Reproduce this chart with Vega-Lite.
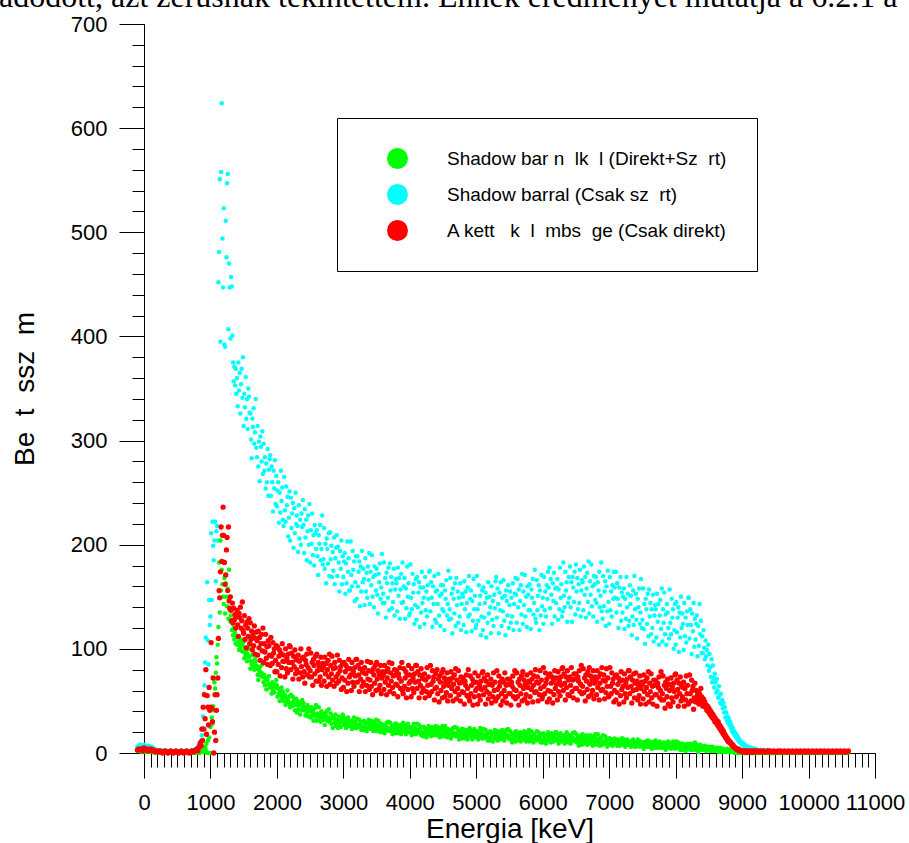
{
  "$schema": "https://vega.github.io/schema/vega-lite/v6.json",
  "width": 731,
  "height": 729,
  "autosize": "none",
  "padding": {"left": 144, "top": 24, "right": 34, "bottom": 90},
  "background": "white",
  "config": {"view": {"stroke": null}, "font": "Liberation Sans"},
  "title": {
    "text": "adódott, azt zérusnak tekintettem. Ennek eredményét mutatja a 6.2.1 a",
    "anchor": "start",
    "frame": "group",
    "font": "Liberation Serif",
    "fontSize": 32,
    "fontWeight": "normal",
    "color": "black",
    "baseline": "alphabetic",
    "offset": -26,
    "dx": -145
  },
  "data": {
    "format": {"type": "csv", "parse": {"e": "number", "g": "number", "c": "number", "r": "number"}},
    "values": "e,g,c,r\n-100,2,6,3\n-80,3,7,4\n-60,2,8,3\n-40,1,6,4\n-20,3,7,2\n0,2,8,5\n20,1,6,3\n40,2,7,4\n60,3,6,2\n80,1,7,3\n100,2,5,4\n120,1,6,2\n140,2,4,3\n160,0,4,2\n180,1,3,1\n200,1,3,2\n220,0,2,1\n240,1,3,2\n260,0,2,1\n280,1,2,0\n300,0,3,1\n320,1,2,2\n340,0,2,1\n360,1,1,0\n380,0,2,1\n400,1,2,2\n420,0,1,1\n440,1,2,0\n460,0,2,1\n480,1,1,2\n500,0,2,1\n520,1,1,0\n540,0,2,1\n560,1,1,2\n580,0,2,1\n600,1,1,0\n620,0,2,1\n640,1,1,2\n660,0,2,1\n680,1,1,0\n700,0,2,1\n720,1,3,2\n740,0,2,1\n760,1,3,2\n780,0,4,3\n800,1,3,4\n810,0,4,2\n820,1,3,5\n830,0,5,6\n840,1,6,8\n850,2,8,10\n860,1,12,7\n870,3,17,23\n880,2,24,12\n890,1,35,44\n900,4,57,23\n910,2,65,56\n920,6,87,33\n930,3,111,80\n940,9,80,18\n950,0,164,55\n960,12,108,44\n970,0,85,27\n980,15,147,63\n990,0,123,41\n1000,25,131,44\n1010,0,211,106\n1020,34,147,43\n1030,28,222,30\n1040,45,199,72\n1050,41,185,0\n1060,68,204,20\n1070,62,222,56\n1080,77,165,12\n1090,92,213,41\n1100,86,218,56\n1110,104,204,72\n1120,121,452,110\n1130,183,481,156\n1140,135,551,149\n1150,204,395,174\n1160,156,558,217\n1170,176,624,184\n1180,162,494,209\n1190,150,447,236\n1200,143,523,209\n1210,168,392,183\n1220,134,390,162\n1230,163,511,171\n1240,150,476,195\n1250,141,547,207\n1260,158,556,156\n1270,129,407,217\n1280,176,470,146\n1290,137,447,139\n1300,126,398,150\n1310,132,457,137\n1320,118,448,127\n1330,124,401,144\n1340,113,375,125\n1350,120,357,139\n1360,109,371,128\n1370,116,353,133\n1380,105,369,120\n1390,112,345,131\n1400,111,360,137\n1410,104,333,123\n1420,107,375,112\n1430,99,348,134\n1440,105,365,130\n1450,101,326,140\n1460,109,354,120\n1470,98,369,127\n1480,104,341,145\n1490,106,380,118\n1500,97,314,115\n1510,91,345,132\n1520,101,332,109\n1530,94,361,123\n1540,98,321,101\n1550,88,340,126\n1560,95,311,120\n1570,100,350,112\n1580,92,342,129\n1590,103,327,105\n1600,81,326,125\n1610,88,301,109\n1620,85,283,117\n1630,94,321,99\n1640,83,313,113\n1650,87,331,103\n1660,80,297,122\n1670,90,308,95\n1680,88,340,110\n1690,84,293,116\n1700,81,284,108\n1710,75,314,94\n1720,70,275,117\n1730,80,299,101\n1740,78,261,111\n1750,83,304,89\n1760,74,294,105\n1770,77,280,114\n1780,85,309,98\n1790,73,268,120\n1800,68,297,87\n1810,75,271,105\n1820,65,284,97\n1830,71,254,114\n1840,61,278,91\n1850,72,260,102\n1860,70,292,85\n1870,66,247,108\n1880,74,272,103\n1890,63,282,94\n1900,65,286,84\n1910,63,247,111\n1920,57,275,93\n1930,68,260,86\n1940,60,232,106\n1950,64,271,96\n1960,58,254,100\n1970,66,281,78\n1980,63,239,89\n1990,70,266,103\n2000,65,237,78\n2010,54,252,102\n2020,62,260,85\n2030,57,221,93\n2040,50,250,99\n2050,60,231,74\n2060,56,271,96\n2070,63,242,82\n2080,53,255,105\n2090,59,224,88\n2100,50,218,94\n2110,54,265,88\n2120,56,233,73\n2130,46,222,100\n2140,53,256,81\n2150,49,238,91\n2160,60,246,77\n2170,51,208,95\n2180,54,226,87\n2190,47,251,103\n2200,44,204,102\n2210,56,245,80\n2220,48,216,96\n2230,45,230,87\n2240,54,240,71\n2250,49,197,93\n2260,51,235,83\n2270,41,211,99\n2280,46,250,76\n2290,52,220,90\n2300,39,228,80\n2310,50,218,89\n2320,42,193,94\n2330,46,238,71\n2340,48,206,88\n2350,37,224,77\n2360,47,200,100\n2370,41,230,83\n2380,51,217,91\n2390,44,243,73\n2400,48,219,92\n2410,41,192,78\n2420,44,234,67\n2430,36,207,89\n2440,42,224,85\n2450,38,185,95\n2460,46,213,75\n2470,35,228,82\n2480,41,200,100\n2490,43,239,73\n2500,40,183,79\n2510,34,214,96\n2520,44,201,73\n2530,37,230,87\n2540,41,190,65\n2550,31,209,90\n2560,38,180,84\n2570,43,219,76\n2580,35,211,93\n2590,46,196,69\n2600,31,214,95\n2610,38,189,79\n2620,35,171,87\n2630,44,209,69\n2640,33,201,83\n2650,37,219,73\n2660,30,185,92\n2670,40,196,65\n2680,38,228,80\n2690,34,181,86\n2700,38,186,83\n2710,32,216,69\n2720,27,177,92\n2730,37,201,76\n2740,35,163,86\n2750,40,206,64\n2760,31,196,80\n2770,34,182,89\n2780,42,211,73\n2790,30,170,95\n2800,31,212,66\n2810,38,186,84\n2820,28,199,76\n2830,34,169,93\n2840,24,193,70\n2850,35,175,81\n2860,33,207,64\n2870,29,162,87\n2880,37,187,82\n2890,26,197,73\n2900,32,209,67\n2910,30,170,94\n2920,24,198,76\n2930,35,183,69\n2940,27,155,89\n2950,31,194,79\n2960,25,177,83\n2970,33,204,61\n2980,30,162,72\n2990,37,189,86\n3000,35,169,63\n3010,27,184,87\n3020,33,192,70\n3030,29,153,78\n3040,24,182,84\n3050,31,163,59\n3060,28,203,81\n3070,34,174,67\n3080,26,187,90\n3090,31,156,73\n3100,26,156,81\n3110,30,203,75\n3120,31,171,60\n3130,23,160,87\n3140,29,194,68\n3150,26,176,78\n3160,34,184,64\n3170,27,146,82\n3180,30,164,74\n3190,24,189,90\n3200,24,148,90\n3210,33,189,68\n3220,27,160,84\n3230,25,174,75\n3240,32,184,59\n3250,28,141,81\n3260,29,179,71\n3270,22,155,87\n3280,25,194,64\n3290,30,164,78\n3300,22,177,68\n3310,31,167,77\n3320,25,142,82\n3330,28,187,59\n3340,29,155,76\n3350,21,173,65\n3360,29,149,88\n3370,24,179,71\n3380,32,166,79\n3390,26,192,61\n3400,28,143,70\n3410,23,174,87\n3420,31,161,64\n3430,25,190,78\n3440,28,150,56\n3450,21,169,81\n3460,26,140,75\n3470,30,179,67\n3480,24,171,84\n3490,32,156,60\n3500,21,177,87\n3510,27,152,71\n3520,24,134,79\n3530,31,172,61\n3540,23,164,75\n3550,26,182,65\n3560,20,148,84\n3570,28,159,57\n3580,27,191,72\n3590,23,144,78\n3600,27,153,75\n3610,22,183,61\n3620,19,144,84\n3630,26,168,68\n3640,25,130,78\n3650,29,173,56\n3660,22,163,72\n3670,24,149,81\n3680,30,178,65\n3690,21,137,87\n3700,23,182,59\n3710,29,156,77\n3720,21,169,69\n3730,26,139,86\n3740,18,163,63\n3750,26,145,74\n3760,25,177,57\n3770,22,132,80\n3780,28,157,75\n3790,19,167,66\n3800,28,163,79\n3810,23,136,65\n3820,25,178,54\n3830,19,151,76\n3840,24,168,72\n3850,21,129,82\n3860,27,157,62\n3870,18,172,69\n3880,23,144,87\n3890,25,183,60\n3900,29,145,57\n3910,21,160,81\n3920,27,168,64\n3930,23,129,72\n3940,18,158,78\n3950,25,139,53\n3960,22,179,75\n3970,28,150,61\n3980,20,163,84\n3990,25,132,67\n4000,20,134,75\n4010,24,181,69\n4020,25,149,54\n4030,17,138,81\n4040,23,172,62\n4050,20,154,72\n4060,28,162,58\n4070,21,124,76\n4080,24,142,68\n4090,18,167,84\n4100,19,128,84\n4110,28,169,62\n4120,22,140,78\n4130,20,154,69\n4140,27,164,53\n4150,23,121,75\n4160,24,159,65\n4170,17,135,81\n4180,20,174,58\n4190,25,144,72\n4200,16,159,62\n4210,25,149,71\n4220,19,124,76\n4230,22,169,53\n4240,23,137,70\n4250,15,155,59\n4260,23,131,82\n4270,18,161,65\n4280,26,148,73\n4290,20,174,55\n4300,23,175,57\n4310,21,136,84\n4320,16,164,66\n4330,25,149,59\n4340,19,121,79\n4350,22,160,69\n4360,17,143,73\n4370,23,170,51\n4380,21,128,62\n4390,26,155,76\n4400,22,125,63\n4410,17,156,80\n4420,25,143,57\n4430,19,172,71\n4440,22,132,49\n4450,15,151,74\n4460,20,122,68\n4470,24,161,60\n4480,18,153,77\n4490,26,138,53\n4500,16,161,80\n4510,22,136,64\n4520,19,118,72\n4530,26,156,54\n4540,18,148,68\n4550,21,166,58\n4560,15,132,77\n4570,23,143,50\n4580,22,175,65\n4590,18,128,71\n4600,22,138,69\n4610,17,168,55\n4620,14,129,78\n4630,21,153,62\n4640,20,115,72\n4650,24,158,50\n4660,17,148,66\n4670,19,134,75\n4680,25,163,59\n4690,16,122,81\n4700,18,168,52\n4710,24,142,70\n4720,16,155,62\n4730,21,125,79\n4740,13,149,56\n4750,21,131,67\n4760,20,163,50\n4770,17,118,73\n4780,23,143,68\n4790,14,153,59\n4800,23,150,72\n4810,18,123,58\n4820,20,165,47\n4830,14,138,69\n4840,19,155,65\n4850,16,116,75\n4860,22,144,55\n4870,13,159,62\n4880,18,131,80\n4890,20,170,53\n4900,24,133,50\n4910,16,148,74\n4920,22,156,57\n4930,18,117,65\n4940,13,146,71\n4950,20,127,46\n4960,17,167,68\n4970,23,138,54\n4980,15,151,77\n4990,20,120,60\n5000,16,123,68\n5010,20,170,62\n5020,21,138,47\n5030,13,127,74\n5040,19,161,55\n5050,16,143,65\n5060,24,151,51\n5070,17,113,69\n5080,20,131,61\n5090,14,156,77\n5100,14,118,78\n5110,23,159,56\n5120,17,130,72\n5130,15,144,63\n5140,22,154,47\n5150,18,111,69\n5160,19,149,59\n5170,12,125,75\n5180,15,164,52\n5190,20,134,66\n5200,12,150,57\n5210,21,140,66\n5220,15,115,71\n5230,18,160,48\n5240,19,128,65\n5250,11,146,54\n5260,19,122,77\n5270,14,152,60\n5280,22,139,68\n5290,16,165,50\n5300,19,169,52\n5310,17,130,79\n5320,12,158,61\n5330,21,143,54\n5340,15,115,74\n5350,18,154,64\n5360,13,137,68\n5370,19,164,46\n5380,17,122,57\n5390,22,149,71\n5400,20,136,50\n5410,15,166,68\n5420,12,127,60\n5430,19,151,77\n5440,18,113,54\n5450,22,156,65\n5460,15,146,48\n5470,17,132,71\n5480,23,161,66\n5490,14,120,57\n5500,15,142,71\n5510,21,155,57\n5520,13,125,46\n5530,18,149,68\n5540,10,131,64\n5550,18,163,74\n5560,17,118,54\n5570,14,143,61\n5580,20,153,79\n5590,11,168,52\n5600,21,152,60\n5610,16,125,77\n5620,18,167,54\n5630,12,140,68\n5640,17,157,46\n5650,14,118,71\n5660,20,146,65\n5670,11,161,57\n5680,16,133,74\n5690,18,172,50\n5700,18,124,78\n5710,13,155,62\n5720,21,142,70\n5730,15,171,52\n5740,18,131,66\n5750,11,150,56\n5760,16,121,75\n5770,20,160,48\n5780,14,152,63\n5790,22,137,69\n5800,11,162,68\n5810,17,137,54\n5820,14,119,77\n5830,21,157,61\n5840,13,149,71\n5850,16,167,49\n5860,10,133,65\n5870,18,144,74\n5880,17,176,58\n5890,13,129,80\n5900,12,125,59\n5910,21,166,68\n5920,15,137,73\n5930,13,151,50\n5940,20,161,67\n5950,16,118,56\n5960,17,156,79\n5970,10,132,62\n5980,13,171,70\n5990,18,141,52\n6000,10,149,55\n6010,19,124,82\n6020,13,169,64\n6030,16,137,57\n6040,17,155,77\n6050,9,131,67\n6060,17,161,71\n6070,12,148,49\n6080,20,174,60\n6090,14,159,74\n6100,17,178,52\n6110,15,139,76\n6120,10,167,59\n6130,19,152,67\n6140,13,124,73\n6150,16,163,48\n6160,11,146,70\n6170,17,173,56\n6180,15,131,79\n6190,20,158,62\n6200,20,144,72\n6210,12,159,66\n6220,18,167,51\n6230,14,128,78\n6240,9,157,59\n6250,16,138,69\n6260,13,178,55\n6270,19,149,73\n6280,11,162,65\n6290,16,131,81\n6300,12,136,82\n6310,16,183,60\n6320,17,151,76\n6330,9,140,67\n6340,15,174,51\n6350,12,156,73\n6360,20,164,63\n6370,13,126,79\n6380,16,144,56\n6390,10,169,70\n6400,17,149,55\n6410,12,179,73\n6420,9,140,65\n6430,16,164,82\n6440,15,126,59\n6450,19,169,70\n6460,12,159,53\n6470,14,145,76\n6480,20,174,71\n6490,11,133,62\n6500,12,181,76\n6510,18,155,62\n6520,10,168,51\n6530,15,138,73\n6540,7,162,69\n6550,15,144,79\n6560,14,176,59\n6570,11,131,66\n6580,17,156,84\n6590,8,166,57\n6600,18,164,64\n6610,13,137,81\n6620,15,179,58\n6630,9,152,72\n6640,14,169,50\n6650,11,130,75\n6660,17,158,69\n6670,8,173,61\n6680,13,145,78\n6690,15,184,54\n6700,14,134,82\n6710,9,165,66\n6720,17,152,74\n6730,11,181,56\n6740,14,141,70\n6750,7,160,60\n6760,12,131,79\n6770,16,170,52\n6780,10,162,67\n6790,18,147,73\n6800,8,169,70\n6810,14,144,56\n6820,11,126,79\n6830,18,164,63\n6840,10,156,73\n6850,13,174,51\n6860,7,140,67\n6870,15,151,76\n6880,14,183,60\n6890,10,136,82\n6900,8,129,61\n6910,17,170,70\n6920,11,141,75\n6930,9,155,52\n6940,16,165,69\n6950,12,122,58\n6960,13,160,81\n6970,6,136,64\n6980,9,175,72\n6990,14,145,54\n7000,8,124,55\n7010,14,169,82\n7020,9,137,64\n7030,12,155,57\n7040,13,131,77\n7050,7,161,67\n7060,12,148,71\n7070,9,174,49\n7080,14,159,60\n7090,11,149,74\n7100,11,174,51\n7110,10,135,75\n7120,7,163,58\n7130,13,148,66\n7140,8,120,72\n7150,11,159,47\n7160,7,142,69\n7170,12,169,55\n7180,10,127,78\n7190,14,154,61\n7200,14,135,70\n7210,8,150,64\n7220,13,158,49\n7230,10,119,76\n7240,6,148,57\n7250,12,129,67\n7260,10,169,53\n7270,13,140,71\n7280,8,153,63\n7290,11,122,79\n7300,8,127,79\n7310,10,161,57\n7320,11,143,73\n7330,6,151,64\n7340,10,113,48\n7350,7,131,70\n7360,13,156,60\n7370,9,123,76\n7380,10,170,53\n7390,6,138,67\n7400,6,153,77\n7410,10,128,61\n7420,9,110,69\n7430,13,148,51\n7440,7,140,65\n7450,10,158,55\n7460,6,124,74\n7470,11,135,47\n7480,10,167,62\n7490,8,120,68\n7500,10,128,66\n7510,7,158,52\n7520,4,119,75\n7530,10,143,59\n7540,9,105,69\n7550,11,148,47\n7560,6,138,63\n7570,8,124,72\n7580,12,153,56\n7590,6,112,78\n7600,8,157,49\n7610,11,131,67\n7620,6,144,59\n7630,9,114,76\n7640,4,138,53\n7650,10,120,64\n7660,9,152,47\n7670,6,107,70\n7680,11,132,65\n7690,5,142,56\n7700,12,138,70\n7710,8,111,56\n7720,10,153,45\n7730,5,126,67\n7740,9,143,63\n7750,6,104,73\n7760,11,132,53\n7770,5,147,60\n7780,8,119,78\n7790,9,158,51\n7800,8,107,57\n7810,5,138,74\n7820,10,125,51\n7830,7,154,65\n7840,9,114,43\n7850,3,133,68\n7860,7,104,62\n7870,10,143,54\n7880,5,135,71\n7890,11,120,47\n7900,6,110,66\n7910,8,157,60\n7920,9,125,45\n7930,4,114,72\n7940,8,148,53\n7950,5,130,63\n7960,11,138,49\n7970,7,100,67\n7980,8,118,59\n7990,4,143,75\n8000,5,104,76\n8010,11,145,54\n8020,7,116,70\n8030,5,130,61\n8040,10,140,45\n8050,8,97,67\n8060,9,135,57\n8070,3,111,73\n8080,6,150,50\n8090,9,120,64\n8100,3,134,54\n8110,9,124,63\n8120,4,99,68\n8130,7,144,45\n8140,8,112,62\n8150,2,130,51\n8160,7,106,74\n8170,4,136,57\n8180,9,123,65\n8190,6,149,47\n8200,7,149,48\n8210,6,110,75\n8220,3,138,57\n8230,9,123,50\n8240,4,95,70\n8250,7,134,60\n8260,3,117,64\n8270,8,144,42\n8280,6,102,53\n8290,10,129,67\n8300,9,109,49\n8310,3,124,60\n8320,8,132,52\n8330,5,93,56\n8340,1,122,59\n8350,7,103,47\n8360,5,143,57\n8370,8,114,51\n8380,3,127,62\n8390,6,96,54\n8400,4,112,50\n8410,6,96,45\n8420,3,118,52\n8430,5,101,47\n8440,7,90,49\n8450,4,108,44\n8460,2,93,46\n8470,6,99,41\n8480,3,84,45\n8490,5,104,40\n8500,4,79,43\n8510,6,95,38\n8520,2,82,41\n8530,5,73,36\n8540,3,90,39\n8550,6,68,34\n8560,4,84,37\n8570,2,72,33\n8580,5,63,35\n8590,3,76,30\n8600,4,68,33\n8610,2,58,29\n8620,5,71,31\n8630,3,60,27\n8640,4,53,30\n8650,1,64,25\n8660,3,55,27\n8670,5,48,23\n8680,2,57,25\n8690,4,47,21\n8700,3,51,23\n8710,1,43,19\n8720,4,48,21\n8730,2,39,17\n8740,3,44,18\n8750,1,34,15\n8760,3,39,16\n8770,2,31,13\n8780,4,35,14\n8790,1,29,11\n8800,2,33,12\n8810,3,27,10\n8820,1,30,11\n8830,2,24,9\n8840,3,27,9\n8850,1,21,7\n8860,2,24,8\n8870,1,19,6\n8880,2,21,6\n8890,0,17,5\n8900,1,19,5\n8910,2,15,4\n8920,0,17,4\n8930,1,13,3\n8940,1,15,4\n8950,0,11,3\n8960,1,13,2\n8970,0,10,3\n8980,1,11,2\n8990,0,9,2\n9000,1,10,2\n9010,0,8,1\n9020,1,9,2\n9030,0,7,1\n9040,0,8,2\n9050,1,6,1\n9060,0,7,1\n9070,0,5,2\n9080,1,6,1\n9090,0,5,1\n9100,0,6,2\n9110,0,4,1\n9120,1,5,1\n9130,0,4,2\n9140,0,5,1\n9150,0,3,1\n9160,0,4,2\n9170,0,3,1\n9180,0,4,1\n9190,0,3,2\n9200,0,4,2\n9220,0,3,1\n9240,0,3,2\n9260,0,2,1\n9280,0,3,2\n9300,0,2,1\n9320,0,3,2\n9340,0,2,1\n9360,0,2,1\n9380,0,3,2\n9400,0,2,1\n9420,0,2,2\n9440,0,1,1\n9460,0,2,1\n9480,0,1,2\n9500,0,2,1\n9520,0,1,1\n9540,0,2,2\n9560,0,1,1\n9580,0,1,2\n9600,0,2,1\n9620,0,1,1\n9640,0,1,2\n9660,0,2,1\n9680,0,1,1\n9700,0,1,2\n9720,0,2,1\n9740,0,1,1\n9760,0,1,2\n9780,0,1,1\n9800,0,2,1\n9820,0,1,2\n9840,0,1,1\n9860,0,1,1\n9880,0,2,2\n9900,0,1,1\n9920,0,1,1\n9940,0,1,2\n9960,0,2,1\n9980,0,1,1\n10000,0,1,2\n10020,0,1,1\n10040,0,2,1\n10060,0,1,2\n10080,0,1,1\n10100,0,1,1\n10120,0,2,2\n10140,0,1,1\n10160,0,1,1\n10180,0,1,2\n10200,0,2,1\n10220,0,1,1\n10240,0,1,2\n10260,0,1,1\n10280,0,2,1\n10300,0,1,2\n10320,0,1,1\n10340,0,1,1\n10360,0,2,2\n10380,0,1,1\n10400,0,1,1\n10420,0,1,2\n10440,0,2,1\n10460,0,1,1\n10480,0,1,2\n10500,0,1,1\n10520,0,2,1\n10540,0,1,2\n10560,0,1,1\n10580,0,1,1\n10600,0,1,2"
  },
  "layer": [
    {
      "mark": {"type": "point", "shape": "circle", "filled": true, "opacity": 1, "size": 20, "strokeWidth": 0},
      "encoding": {
        "x": {
          "field": "e", "type": "quantitative",
          "scale": {"domain": [0, 11000], "nice": false, "zero": false},
          "axis": {
            "orient": "bottom",
            "values": [0, 1000, 2000, 3000, 4000, 5000, 6000, 7000, 8000, 9000, 10000, 11000],
            "format": "d", "grid": false,
            "domainColor": "black", "domainWidth": 1,
            "tickColor": "black", "tickWidth": 1, "tickSize": 25,
            "labelFont": "Liberation Sans", "labelFontSize": 22, "labelColor": "black",
            "labelPadding": 14, "labelOverlap": false, "labelFlush": false, "labelBound": false,
            "title": "Energia [keV]", "titleFont": "Liberation Sans", "titleFontSize": 28,
            "titleFontWeight": "normal", "titleColor": "black", "titlePadding": 2
          }
        },
        "y": {
          "field": "c", "type": "quantitative",
          "scale": {"domain": [0, 700], "nice": false, "zero": false},
          "axis": {
            "orient": "left",
            "values": [0, 100, 200, 300, 400, 500, 600, 700],
            "grid": false,
            "domainColor": "black", "domainWidth": 1,
            "tickColor": "black", "tickWidth": 1, "tickSize": 25,
            "labelFont": "Liberation Sans", "labelFontSize": 22, "labelColor": "black",
            "labelPadding": 12, "labelOverlap": false, "labelFlush": false,
            "title": "Be\u00a0\u00a0t\u00a0\u00a0ssz\u00a0\u00a0m", "titleFont": "Liberation Sans", "titleFontSize": 28,
            "titleFontWeight": "normal", "titleColor": "black", "titlePadding": 31
          }
        },
        "color": {
          "datum": "Shadow barral (Csak sz\u00a0\u00a0rt)", "type": "nominal",
          "scale": {
            "domain": ["Shadow bar n\u00a0\u00a0lk\u00a0\u00a0l (Direkt+Sz\u00a0\u00a0rt)", "Shadow barral (Csak sz\u00a0\u00a0rt)", "A kett\u00a0\u00a0\u00a0k\u00a0\u00a0l\u00a0\u00a0mbs\u00a0\u00a0ge (Csak direkt)"],
            "range": ["#00ff00", "#00ffff", "#ff0000"]
          },
          "legend": {
            "orient": "none", "legendX": 193, "legendY": 94,
            "title": null,
            "strokeColor": "black", "fillColor": "white",
            "padding": 30,
            "symbolType": "circle", "symbolSize": 441, "symbolStrokeWidth": 0, "symbolOffset": 20,
            "labelOffset": 39, "labelFont": "Liberation Sans", "labelFontSize": 19,
            "labelColor": "black", "labelLimit": 0, "rowPadding": 15
          }
        }
      }
    },
    {
      "mark": {"type": "point", "shape": "circle", "filled": true, "opacity": 1, "size": 20, "strokeWidth": 0},
      "encoding": {
        "x": {
          "field": "e", "type": "quantitative",
          "axis": {
            "orient": "bottom", "tickCount": 110, "labels": false, "domain": false, "grid": false,
            "tickColor": "black", "tickWidth": 1, "tickSize": 14, "title": null
          }
        },
        "y": {
          "field": "g", "type": "quantitative",
          "axis": {
            "orient": "left", "tickCount": 35, "labels": false, "domain": false, "grid": false,
            "tickColor": "black", "tickWidth": 1, "tickSize": 12, "title": null
          }
        },
        "color": {"datum": "Shadow bar n\u00a0\u00a0lk\u00a0\u00a0l (Direkt+Sz\u00a0\u00a0rt)", "type": "nominal"}
      }
    },
    {
      "mark": {"type": "point", "shape": "circle", "filled": true, "opacity": 1, "size": 28, "strokeWidth": 0},
      "encoding": {
        "x": {"field": "e", "type": "quantitative", "axis": null},
        "y": {"field": "r", "type": "quantitative", "axis": null},
        "color": {"datum": "A kett\u00a0\u00a0\u00a0k\u00a0\u00a0l\u00a0\u00a0mbs\u00a0\u00a0ge (Csak direkt)", "type": "nominal"}
      }
    }
  ],
  "resolve": {"axis": {"x": "independent", "y": "independent"}}
}
